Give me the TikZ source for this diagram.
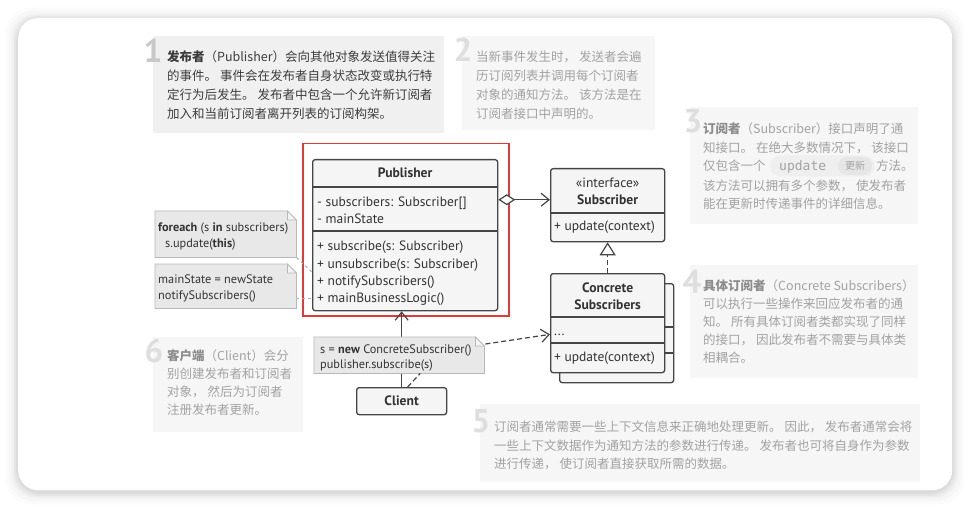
\documentclass[tikz,border=0pt]{standalone}
\usepackage{fontspec}
\setmainfont{PT Sans}
\newfontfamily\cjk{Noto Sans CJK SC}
\newfontfamily\codefont{DejaVu Sans Mono}
\usetikzlibrary{arrows.meta,calc}
\definecolor{notebg}{HTML}{F6F6F6}
\definecolor{notebgA}{HTML}{F0F0F0}
\definecolor{numgray}{HTML}{DEDEDE}
\definecolor{numgrayA}{HTML}{C8C8C8}
\definecolor{txtgray}{HTML}{A2A2A2}
\definecolor{boldgray}{HTML}{8C8C8C}
\definecolor{txtdark}{HTML}{3C3C3C}
\definecolor{umlline}{HTML}{454545}
\definecolor{umltext}{HTML}{333333}
\definecolor{umlfill}{HTML}{F5F5F5}
\definecolor{notefill}{HTML}{E8E8E8}
\definecolor{noteline}{HTML}{B8B8B8}
\definecolor{notefold}{HTML}{F4F4F4}
\definecolor{linkgray}{HTML}{ABABAB}
\definecolor{redframe}{HTML}{E53935}
\definecolor{pillbg}{HTML}{EFEFEF}
\definecolor{bubblebg}{HTML}{E6E6E6}
\newcommand\foldnote[2][9]{%
  \filldraw[fill=notefill, draw=noteline, line width=0.8pt]
    (#2.south west) -- (#2.north west) -- ($(#2.north east)+(-#1,0)$)
    -- ($(#2.north east)+(0,#1)$) -- (#2.south east) -- cycle;
  \filldraw[fill=notefold, draw=noteline, line width=0.8pt]
    ($(#2.north east)+(-#1,0)$) -- ($(#2.north east)+(-#1,#1)$) -- ($(#2.north east)+(0,#1)$) -- cycle;
}
\tikzset{
  nbox/.style={draw=none, fill=notebg, inner sep=0, anchor=north west},
  num/.style={font=\bfseries\fontsize{33}{33}\selectfont, text=numgray, inner sep=0},
  ct/.style={font=\cjk\fontsize{12.5}{15}\selectfont, text=txtgray, inner sep=0, anchor=base west},
  ctd/.style={ct, text=txtdark},
  clsbox/.style={draw=umlline, fill=umlfill, line width=1.3pt, rounded corners=2.5pt, inner sep=0, anchor=north west},
  ut/.style={font=\fontsize{13.5}{15}\selectfont, text=umltext, inner sep=0, anchor=base west},
  utb/.style={font=\bfseries\fontsize{13.6}{15}\selectfont, text=umltext, inner sep=0, anchor=base},
  utc/.style={ut, anchor=base},
  nt/.style={font=\fontsize{12.3}{14}\selectfont, text=umltext, inner sep=0, anchor=base west},
  ghost/.style={inner sep=0, anchor=north west},
  divider/.style={draw=umlline, line width=1.3pt},
  dep/.style={draw=umlline, line width=1.2pt, dash pattern=on 5pt off 3pt},
  notelink/.style={draw=linkgray, line width=1pt, dash pattern=on 3pt off 3pt},
  openv/.tip={Straight Barb[length=8pt,width=13pt,line width=1.2pt]},
}
\begin{document}
\begin{tikzpicture}[x=1pt,y=-1pt]
\useasboundingbox (0,0) rectangle (970,508);
\fill[white] (0,0) rectangle (970,508);
% card shadow
\foreach \s/\o in {12/0.014,9/0.02,6/0.028,4/0.035,2/0.045}{
  \fill[black,opacity=\o,rounded corners=24] (18-\s,18-\s+2) rectangle (952+\s,490+\s+2);
}
\node[fill=white, rounded corners=20, minimum width=934, minimum height=472, anchor=north west, inner sep=0] (card) at (18,18) {};

% numbered explanation boxes
\node[nbox, fill=notebgA, minimum width=291, minimum height=97] (n1) at (153,36) {};
\node[nbox, minimum width=193, minimum height=94] (n2) at (462,36) {};
\node[nbox, minimum width=228, minimum height=117] (n3) at (690,107) {};
\node[nbox, minimum width=228, minimum height=113] (n4) at (690,265) {};
\node[nbox, minimum width=440, minimum height=78] (n5) at (480,404) {};
\node[nbox, minimum width=150, minimum height=95] (n6) at (153,337) {};

\node[num, text=numgrayA] (d1) at (153,51) {1};
\node[num] (d2) at (463,50) {2};
\node[num] (d3) at (693,121) {3};
\node[num] (d4) at (692,282) {4};
\node[num] (d5) at (481,421) {5};
\node[num] (d6) at (154,351) {6};

% box 1
\node[ctd] (t11) at (167,62) {\textbf{发布者}（Publisher）会向其他对象发送值得关注};
\node[ctd] (t12) at (167,81) {的事件。 事件会在发布者自身状态改变或执行特};
\node[ctd] (t13) at (167,100) {定行为后发生。 发布者中包含一个允许新订阅者};
\node[ctd] (t14) at (167,119) {加入和当前订阅者离开列表的订阅构架。};
% box 2
\node[ct] (t21) at (476,62) {当新事件发生时， 发送者会遍};
\node[ct] (t22) at (476,81) {历订阅列表并调用每个订阅者};
\node[ct] (t23) at (476,100) {对象的通知方法。 该方法是在};
\node[ct] (t24) at (476,119) {订阅者接口中声明的。};
% box 3
\node[ct] (t31) at (703,134) {\textcolor{boldgray}{\textbf{订阅者}}（Subscriber）接口声明了通};
\node[ct] (t32) at (703,152.5) {知接口。 在绝大多数情况下， 该接口};
\node[ct] (t33a) at (703,171) {仅包含一个};
\node[fill=pillbg, rounded corners=10pt, minimum width=104, minimum height=21, anchor=west, inner sep=0] (pill) at (770,166) {};
\node[fill=bubblebg, rounded corners=9pt, minimum width=34, minimum height=18, inner sep=0] (bub) at (855,166) {};
\node[font=\codefont\fontsize{13}{13}\selectfont, text=txtgray, anchor=base west, inner sep=0] (upd) at (779,170.5) {update};
\node[font=\cjk\fontsize{10}{10}\selectfont, text=txtgray, inner sep=0] (gx) at (855,166) {更新};
\node[ct] (t33b) at (876,171) {方法。};
\node[ct] (t34) at (703,190) {该方法可以拥有多个参数， 使发布者};
\node[ct] (t35) at (703,208.5) {能在更新时传递事件的详细信息。};
% box 4
\node[ct] (t41) at (703,290.5) {\textcolor{boldgray}{\textbf{具体订阅者}}（Concrete Subscribers）};
\node[ct] (t42) at (703,308.5) {可以执行一些操作来回应发布者的通};
\node[ct] (t43) at (703,326.5) {知。 所有具体订阅者类都实现了同样};
\node[ct] (t44) at (703,344.5) {的接口， 因此发布者不需要与具体类};
\node[ct] (t45) at (703,362.5) {相耦合。};
% box 5
\node[ct] (t51) at (494,431.5) {订阅者通常需要一些上下文信息来正确地处理更新。 因此， 发布者通常会将};
\node[ct] (t52) at (494,450.5) {一些上下文数据作为通知方法的参数进行传递。 发布者也可将自身作为参数};
\node[ct] (t53) at (494,468.5) {进行传递， 使订阅者直接获取所需的数据。};
% box 6
\node[ct] (t61) at (167,360.5) {\textcolor{boldgray}{\textbf{客户端}}（Client）会分};
\node[ct] (t62) at (167,378.5) {别创建发布者和订阅者};
\node[ct] (t63) at (167,396.5) {对象， 然后为订阅者};
\node[ct] (t64) at (167,414.5) {注册发布者更新。};

% red highlight frame
\node[draw=redframe, line width=1.5pt, minimum width=206, minimum height=172, anchor=north west, inner sep=0] (frame) at (302,143) {};

% Publisher
\node[clsbox, minimum width=185, minimum height=151] (pub) at (312,159) {};
\draw[divider] (pub.west |- 0,187) -- (pub.east |- 0,187);
\draw[divider] (pub.west |- 0,231) -- (pub.east |- 0,231);
\node[utb] (pname) at (pub.north |- 0,177.5) {Publisher};
\node[ut] (a1) at (317,206.5) {- subscribers: Subscriber[]};
\node[ut] (a2) at (317,223.5) {- mainState};
\node[ut] (m1) at (317,250.5) {+ subscribe(s: Subscriber)};
\node[ut] (m2) at (317,268) {+ unsubscribe(s: Subscriber)};
\node[ut] (m3) at (317,285.5) {+ notifySubscribers()};
\node[ut] (m4) at (317,302) {+ mainBusinessLogic()};

% Subscriber interface
\node[clsbox, minimum width=114, minimum height=73] (subi) at (550,168) {};
\draw[divider] (subi.west |- 0,213) -- (subi.east |- 0,213);
\node[utc] (sint) at (subi.north |- 0,187.5) {«interface»};
\node[utb] (sname) at (subi.north |- 0,204.5) {Subscriber};
\node[ut] (supd) at (554,230.5) {+ update(context)};

% Concrete subscribers (stacked)
\node[clsbox, minimum width=114, minimum height=99] (conc2) at (559,283) {};
\draw[divider] (conc2.west |- 0,327) -- (conc2.east |- 0,327);
\draw[divider] (conc2.west |- 0,353) -- (conc2.east |- 0,353);
\node[clsbox, minimum width=114, minimum height=99] (conc) at (550,273) {};
\draw[divider] (conc.west |- 0,317) -- (conc.east |- 0,317);
\draw[divider] (conc.west |- 0,343) -- (conc.east |- 0,343);
\node[utb] (cn1) at (conc.north |- 0,292.5) {Concrete};
\node[utb] (cn2) at (conc.north |- 0,309.5) {Subscribers};
\node[ut] (cdots) at (554,335) {...};
\node[ut] (cupd) at (554,361.5) {+ update(context)};

% Client
\node[clsbox, minimum width=90, minimum height=27] (client) at (356,387) {};
\node[utb] (cl) at (client.north |- 0,405.5) {Client};

% invisible note anchors
\node[ghost, minimum width=141, minimum height=46] (noteA) at (155,211) {};
\node[ghost, minimum width=141, minimum height=44] (noteB) at (155,264) {};
\node[ghost, minimum width=170, minimum height=36] (noteC) at (314,337) {};

% connectors
\draw[umlline, line width=1.3pt, {Diamond[length=17pt,width=11pt,fill=white,line width=1.2pt]}-{openv}]
  (pub.east |- sname) -- (subi.west |- sname);
\draw[dep, -{Triangle[length=13pt,width=16pt,fill=white,line width=1.2pt]}] (conc.north) -- (subi.south);
\draw[umlline, line width=1.3pt, -{openv}] (client.north) -- (client.north |- pub.south);
\draw[notelink] (noteA.south east) -- ($(pub.west |- m3)+(0,-10)$);
\draw[notelink] (noteB.east |- m4) -- (pub.west |- m4);

% notes
\foldnote{noteA}
\foldnote{noteB}
\foldnote{noteC}
\node[nt] (na1) at (158,231.5) {\textbf{foreach} (s \textbf{in} subscribers)};
\node[nt] (na2) at (165,247.5) {s.update(\textbf{this})};
\node[nt] (nb1) at (158,283.5) {mainState = newState};
\node[nt] (nb2) at (158,299.5) {notifySubscribers()};
\node[nt] (nc1) at (320,353.5) {s = \textbf{new} ConcreteSubscriber()};
\node[nt] (nc2) at (320,368.5) {publisher.subscribe(s)};

\draw[dep] ($(client.north)+(6,0)$) -- ($(noteC.south)+(21,0)$);
\draw[dep, -{openv}] ($(noteC.north east)+(1,7)$) -- (conc.west |- cdots);
\end{tikzpicture}
\end{document}
